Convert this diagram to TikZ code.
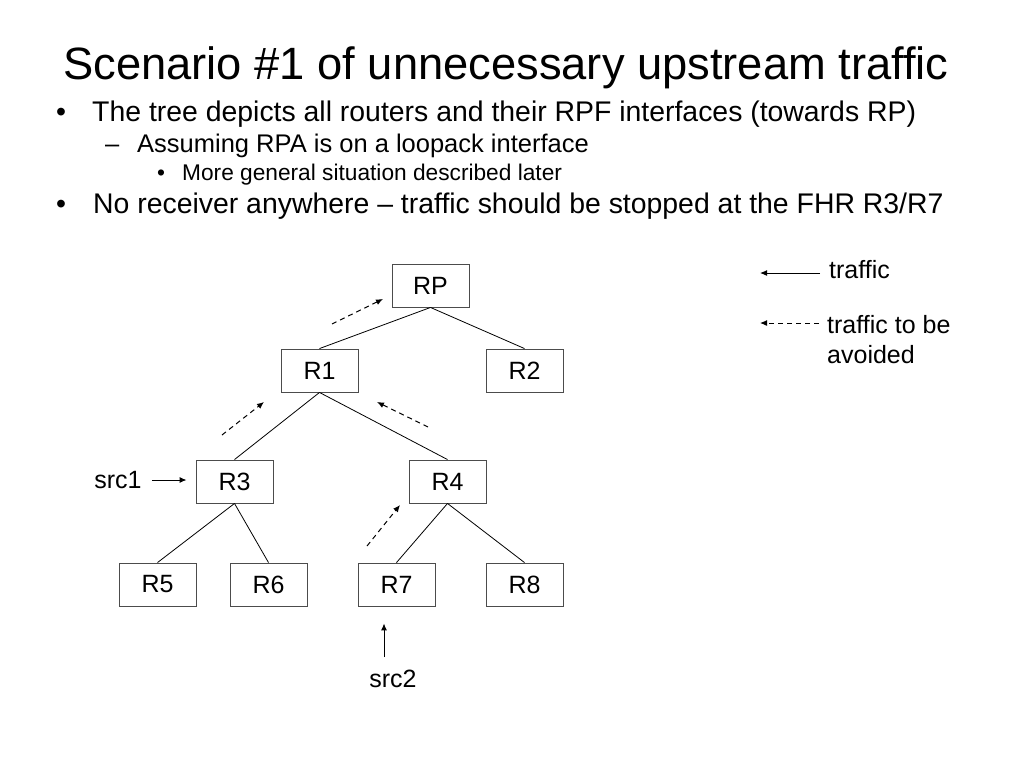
\documentclass[tikz,border=0pt]{standalone}
\usepackage{fontspec}
\setmainfont{Liberation Sans}
\usetikzlibrary{arrows.meta}

\begin{document}
\begin{tikzpicture}[x=1pt,y=-1pt,
    router/.style={draw=black!70,line width=0.9pt,minimum width=77pt,minimum height=43pt,inner sep=0pt,font=\fontsize{25}{30}\selectfont},
    txt/.style={inner sep=0pt,anchor=base west},
    lbl/.style={inner sep=0pt,font=\fontsize{25}{30}\selectfont},
    link/.style={line width=0.8pt},
    flow/.style={line width=1pt,-{Latex[length=7pt,width=6pt]}},
    avoid/.style={flow,dash pattern=on 5pt off 4pt}]
  \useasboundingbox[fill=white] (0,0) rectangle (1024,768);

  \node[txt,font=\fontsize{45.3}{54}\selectfont] (title) at (63,79) {Scenario \#1 of unnecessary upstream traffic};
  \node[txt,font=\fontsize{28.4}{34}\selectfont,anchor=base] (d1) at (61,121) {•};
  \node[txt,font=\fontsize{28.4}{34}\selectfont] (b1) at (92,121) {The tree depicts all routers and their RPF interfaces (towards RP)};
  \node[txt,font=\fontsize{25.5}{30}\selectfont] (d2) at (105,152) {–};
  \node[txt,font=\fontsize{25.5}{30}\selectfont] (b2) at (137,152) {Assuming RPA is on a loopack interface};
  \node[txt,font=\fontsize{22.7}{27}\selectfont,anchor=base] (d3) at (161,180) {•};
  \node[txt,font=\fontsize{22.7}{27}\selectfont] (b3) at (182,180) {More general situation described later};
  \node[txt,font=\fontsize{28.4}{34}\selectfont,anchor=base] (d4) at (61,213) {•};
  \node[txt,font=\fontsize{28.4}{34}\selectfont] (b4) at (93,213) {No receiver anywhere – traffic should be stopped at the FHR R3/R7};

  \node[router] (RP) at (430.5,285.5) {RP};
  \node[router] (R1) at (319.5,370.5) {R1};
  \node[router] (R2) at (524.5,370.5) {R2};
  \node[router] (R3) at (234.5,481.5) {R3};
  \node[router] (R4) at (447.5,481.5) {R4};
  \node[router] (R5) at (157.5,584.5) {R5};
  \node[router] (R6) at (268.5,584.5) {R6};
  \node[router] (R7) at (396.5,584.5) {R7};
  \node[router] (R8) at (524.5,584.5) {R8};

  \draw[link] (RP.south) -- (R1.north);
  \draw[link] (RP.south) -- (R2.north);
  \draw[link] (R1.south) -- (R3.north);
  \draw[link] (R1.south) -- (R4.north);
  \draw[link] (R3.south) -- (R5.north);
  \draw[link] (R3.south) -- (R6.north);
  \draw[link] (R4.south) -- (R7.north);
  \draw[link] (R4.south) -- (R8.north);

  \coordinate (a1s) at (332,324);
  \coordinate (a1e) at (383,299);
  \coordinate (a2s) at (222,435);
  \coordinate (a2e) at (264,402);
  \coordinate (a3s) at (428,427);
  \coordinate (a3e) at (377,402);
  \coordinate (a4s) at (367,546);
  \coordinate (a4e) at (400,505);
  \draw[avoid] (a1s) -- (a1e);
  \draw[avoid] (a2s) -- (a2e);
  \draw[avoid] (a3s) -- (a3e);
  \draw[avoid] (a4s) -- (a4e);

  \node[lbl] (src1) at (118,480) {src1};
  \draw[flow,shorten <=10pt,shorten >=9pt] (src1.east) -- (src1.east -| R3.west);
  \node[lbl] (src2) at (393,679) {src2};
  \coordinate (s2) at (384,657);
  \draw[flow,shorten >=17pt] (s2) -- (s2 |- R7.south);

  \node[lbl,anchor=west] (trf) at (829,270) {traffic};
  \draw[flow,shorten <=9pt] (trf.west |- 0,273) -- ++(-69,0);
  \node[lbl,anchor=north west,align=left] (trfa) at (827,315) {traffic to be\\avoided};
  \draw[avoid,shorten <=8pt] (trfa.west |- 0,323) -- ++(-67,0);
\end{tikzpicture}
\end{document}
